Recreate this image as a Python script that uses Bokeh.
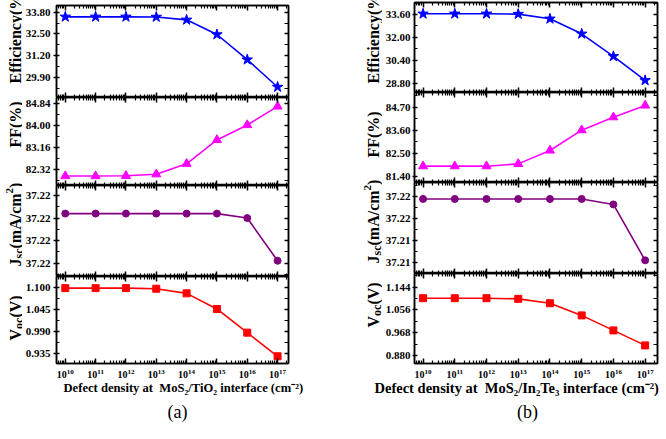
from bokeh.plotting import figure
from bokeh.models import Range1d, FixedTicker, PrintfTickFormatter, LinearAxis, LogAxis, Label, CustomJSTickFormatter
from bokeh.layouts import row, column
from bokeh.embed import file_html
from bokeh.resources import INLINE

# ---------------- data ----------------
density = [1e10, 1e11, 1e12, 1e13, 1e14, 1e15, 1e16, 1e17]

# panel (a): MoS2/TiO2 interface
eff_a = [33.52, 33.52, 33.52, 33.51, 33.34, 32.46, 30.95, 29.31]
ff_a = [82.08, 82.08, 82.09, 82.15, 82.55, 83.46, 84.03, 84.74]
jsc_a = [37.22384, 37.22384, 37.22384, 37.22384, 37.22384, 37.22384, 37.2238, 37.22342]
voc_a = [1.099, 1.099, 1.099, 1.0975, 1.086, 1.047, 0.988, 0.929]

eff_a_ticks = [29.90, 31.20, 32.50, 33.80]
ff_a_ticks = [82.32, 83.16, 84.00, 84.84]
jsc_a_ticks = [37.2234, 37.2236, 37.2238, 37.2240]
voc_a_ticks = [0.935, 0.990, 1.045, 1.100]

# panel (b): MoS2/In2Te3 interface
eff_b = [33.65, 33.65, 33.65, 33.63, 33.30, 32.25, 30.68, 29.00]
ff_b = [81.88, 81.88, 81.88, 81.99, 82.63, 83.60, 84.22, 84.78]
jsc_b = [37.2178, 37.2178, 37.2178, 37.2178, 37.2178, 37.2178, 37.2173, 37.2122]
voc_b = [1.1015, 1.1015, 1.1015, 1.099, 1.082, 1.035, 0.977, 0.919]

eff_b_ticks = [28.80, 30.40, 32.00, 33.60]
ff_b_ticks = [81.40, 82.50, 83.60, 84.70]
jsc_b_ticks = [37.212, 37.214, 37.216, 37.218]
voc_b_ticks = [0.880, 0.968, 1.056, 1.144]

xlabel_a = "Defect density at\u00a0 MoS\u2082/TiO\u2082 interface (cm\u207b\u00b2)"
xlabel_b = "Defect density at\u00a0 MoS\u2082/In\u2082Te\u2083 interface (cm\u207b\u00b2)"

# ---------------- styling / layout ----------------
FONT = "Liberation Serif"
TOP_H = 381          # height of the plotting row
BOT_H = 58           # strip below for x titles and captions
W_TOTAL = 666
# Times-Bold advance widths (per 1000 em) for composing axis titles
WID = {' ': 250, '(': 333, ')': 333, '%': 1000, '/': 278, '2': 500, 'A': 722, 'E': 667,
       'F': 611, 'J': 500, 'V': 722, 'a': 500, 'c': 444, 'e': 444, 'f': 333, 'i': 278,
       'm': 833, 'n': 556, 'o': 500, 's': 389, 'y': 500}

T_EFF = [("Efficiency(%)", 16, 0)]
T_FF = [("FF(%)", 16, 0)]
T_JSC = [("J", 16, 0), ("sc", 12, 3.5), ("(mA/cm", 16, 0), ("2", 11, -6.5), (")", 16, 0)]
T_VOC = [("V", 16, 0), ("oc", 12, 3.5), ("(V)", 16, 0)]


def text_w(s, size):
    return sum(WID.get(ch, 500) for ch in s) * size / 1000.0


def minors(ticks):
    st = ticks[1] - ticks[0]
    return [ticks[0] - st / 2 + i * st for i in range(len(ticks) + 1)]


x_minor = [k * 10.0 ** n for n in range(9, 18) for k in range(2, 10)]


def blank_fig(w, h):
    f = figure(width=w, height=h, x_range=Range1d(0, w), y_range=Range1d(0, h),
               output_backend="svg", toolbar_location=None, x_axis_location=None,
               y_axis_location=None, min_border=0)
    f.grid.visible = False
    f.outline_line_color = None
    f.background_fill_color = "white"
    f.border_fill_color = "white"
    return f


def style_x_axis(ax, show):
    ax.ticker = FixedTicker(ticks=density, minor_ticks=x_minor)
    ax.major_tick_in = 5
    ax.major_tick_out = 0
    ax.minor_tick_in = 3
    ax.minor_tick_out = 0
    ax.major_tick_line_width = 1.5
    ax.minor_tick_line_width = 1.2
    ax.axis_line_width = 1.5
    if show:
        ax.major_label_text_font = FONT
        ax.major_label_text_font_style = "bold"
        ax.major_label_text_font_size = "10px"
        ax.major_label_text_color = "black"
        ax.major_label_standoff = 5
    else:
        ax.formatter = CustomJSTickFormatter(code="return ''")
        ax.major_label_text_font_size = "0px"
        ax.major_label_standoff = 0


def make_sub(xr, ys, yrng, yticks, fmt, color, marker, msize, tick_out, standoff,
             fx0, fx1, fig_x0, fig_w, top, bottom, fig_top, fig_bottom, is_bottom):
    p = figure(width=fig_w, height=fig_bottom - fig_top, x_axis_type="log",
               x_range=xr, y_range=Range1d(*yrng), output_backend="svg",
               toolbar_location=None,
               min_border_left=fx0 - fig_x0, min_border_right=fig_x0 + fig_w - fx1,
               min_border_top=top - fig_top, min_border_bottom=fig_bottom - bottom)
    p.grid.visible = False
    p.outline_line_color = "black"
    p.outline_line_width = 1.5
    p.background_fill_color = "white"
    p.border_fill_color = "white"

    style_x_axis(p.xaxis[0], is_bottom)
    top_ax = LogAxis()
    style_x_axis(top_ax, False)
    p.add_layout(top_ax, "above")

    ya = p.yaxis[0]
    ya.ticker = FixedTicker(ticks=yticks, minor_ticks=minors(yticks))
    ya.formatter = PrintfTickFormatter(format=fmt)
    ya.major_label_text_font = FONT
    ya.major_label_text_font_style = "bold"
    ya.major_label_text_font_size = "11px"
    ya.major_label_text_color = "black"
    ya.major_label_standoff = standoff
    ya.major_tick_out = tick_out
    ya.major_tick_in = 3
    ya.minor_tick_out = 0
    ya.minor_tick_in = 3
    ya.major_tick_line_width = 1.5
    ya.minor_tick_line_width = 1.2
    ya.axis_line_width = 1.5

    ra = LinearAxis(ticker=FixedTicker(ticks=yticks, minor_ticks=minors(yticks)),
                    formatter=CustomJSTickFormatter(code="return ''"),
                    major_label_text_font_size="0px", major_label_standoff=0,
                    major_tick_in=4, major_tick_out=0, minor_tick_in=4, minor_tick_out=0,
                    major_tick_line_width=1.5, minor_tick_line_width=1.2, axis_line_width=1.5)
    p.add_layout(ra, "right")

    p.line(density, ys, line_color=color, line_width=1.6)
    p.scatter(density, ys, marker=marker, size=msize, fill_color=color, line_color=color)
    return p


def make_column(xr, series, fx0, fx1, fig_x0, fig_w, ybounds, tick_out, standoff):
    figs = []
    n = len(series)
    for i, (ys, yrng, yticks, fmt, color, marker, msize, title) in enumerate(series):
        top, bottom = ybounds[i], ybounds[i + 1]
        fig_top = 0 if i == 0 else top
        fig_bottom = TOP_H if i == n - 1 else bottom
        figs.append(make_sub(xr, ys, yrng, yticks, fmt, color, marker, msize, tick_out,
                             standoff, fx0, fx1, fig_x0, fig_w, top, bottom, fig_top,
                             fig_bottom, i == n - 1))
    return column(*figs)


def make_title_strip(series, strip_x0, strip_w, base_x, starts):
    s = blank_fig(strip_w, TOP_H)
    for (_, _, _, _, _, _, _, title), y0 in zip(series, starts):
        pos = y0
        for txt, size, shift in title:
            s.add_layout(Label(x=base_x + shift - strip_x0, y=TOP_H - pos, text=txt,
                               angle=1.5707963, text_align="left",
                               text_baseline="alphabetic", text_font=FONT,
                               text_font_style="bold", text_font_size="%dpx" % size,
                               text_color="black"))
            pos -= text_w(txt, size)
    return s


xr_a = Range1d(10 ** 9.71, 10 ** 17.36)
xr_b = Range1d(10 ** 9.73, 10 ** 17.39)

series_a = [
    (eff_a, (28.68, 34.20), eff_a_ticks, "%.2f", "#0000FF", "star", 11, T_EFF),
    (ff_a, (81.72, 85.08), ff_a_ticks, "%.2f", "#FF00FF", "triangle", 9, T_FF),
    (jsc_a, (37.22328, 37.22409), jsc_a_ticks, "%.2f", "#800080", "circle", 7, T_JSC),
    (voc_a, (0.911, 1.128), voc_a_ticks, "%.3f", "#FF0000", "square", 7, T_VOC),
]
series_b = [
    (eff_b, (28.15, 34.44), eff_b_ticks, "%.2f", "#0000FF", "star", 11, T_EFF),
    (ff_b, (81.10, 85.40), ff_b_ticks, "%.2f", "#FF00FF", "triangle", 9, T_FF),
    (jsc_b, (37.2110, 37.2193), jsc_b_ticks, "%.2f", "#800080", "circle", 7, T_JSC),
    (voc_b, (0.849, 1.197), voc_b_ticks, "%.3f", "#FF0000", "square", 7, T_VOC),
]

# horizontal layout (page pixels): strip A | column A | strip B | column B
SA_W = 22
CA_X0, CA_W = 22, 338
SB_X0, SB_W = 360, 22
CB_X0, CB_W = 382, W_TOTAL - 382

strip_a = make_title_strip(series_a, 0, SA_W, 15, [83, 147, 266, 340])
col_a = make_column(xr_a, series_a, 53, 288, CA_X0, CA_W, [5, 97, 185, 276, 363], 3, 3)
strip_b = make_title_strip(series_b, SB_X0, SB_W, 373, [83, 157, 263, 327])
col_b = make_column(xr_b, series_b, 412, 657, CB_X0, CB_W, [2, 92, 182, 273, 363], 2, 2)

bottom = blank_fig(W_TOTAL, BOT_H)
for txt, x0, size in [(xlabel_a, 63, "12.6px"), (xlabel_b, 374, "14.5px")]:
    bottom.add_layout(Label(x=x0, y=TOP_H + BOT_H - 387, text=txt, text_align="left",
                            text_baseline="middle", text_font=FONT, text_font_style="bold",
                            text_font_size=size, text_color="black"))
for txt, cx in [("(a)", 177), ("(b)", 527)]:
    bottom.add_layout(Label(x=cx, y=TOP_H + BOT_H - 411, text=txt, text_align="center",
                            text_baseline="middle", text_font=FONT, text_font_size="18px",
                            text_color="black"))

p = column(row(strip_a, col_a, strip_b, col_b), bottom,
           styles={"position": "absolute", "left": "0px", "top": "0px"})

with open("out.html", "w") as f:
    f.write(file_html(p, INLINE))
